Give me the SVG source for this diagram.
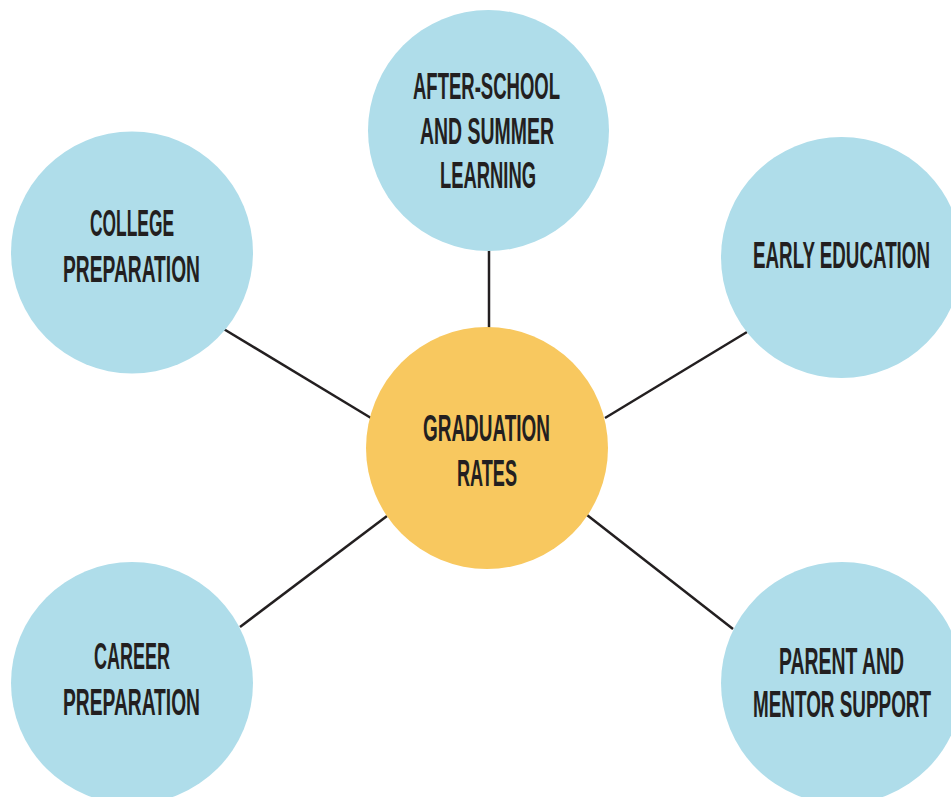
<svg xmlns="http://www.w3.org/2000/svg" width="951" height="797" viewBox="0 0 951 797">
<style>
.outer{fill:#AFDDEA}
.hub{fill:#F8C85F}
.lbl{font-family:"Liberation Sans Narrow","Liberation Sans",Arial,sans-serif;font-weight:bold;font-size:36px;fill:#231F20;text-anchor:middle}
.conn line{stroke:#231F20;stroke-width:2.5;stroke-linecap:butt}
</style>
<rect width="951" height="797" fill="#FFFFFF"/>
<g id="connectors" class="conn">
<line x1="489" y1="250" x2="489" y2="328"/>
<line x1="222" y1="328" x2="371" y2="418"/>
<line x1="747" y1="332" x2="605" y2="418"/>
<line x1="240" y1="627" x2="387" y2="516"/>
<line x1="587" y1="515" x2="733" y2="629"/>
</g>
<g id="node-graduation">
<circle class="hub" cx="487" cy="448" r="121"/>
<text class="lbl" x="486.5" y="441" textLength="127" lengthAdjust="spacingAndGlyphs">GRADUATION</text>
<text class="lbl" x="487" y="486" textLength="60" lengthAdjust="spacingAndGlyphs">RATES</text>
</g>
<g id="node-afterschool">
<circle class="outer" cx="488.5" cy="130.5" r="120.5"/>
<text class="lbl" x="486.5" y="99" textLength="147" lengthAdjust="spacingAndGlyphs">AFTER-SCHOOL</text>
<text class="lbl" x="487" y="144" textLength="134" lengthAdjust="spacingAndGlyphs">AND SUMMER</text>
<text class="lbl" x="488" y="188" textLength="96" lengthAdjust="spacingAndGlyphs">LEARNING</text>
</g>
<g id="node-college">
<circle class="outer" cx="132" cy="252.5" r="121"/>
<text class="lbl" x="132" y="236" textLength="84" lengthAdjust="spacingAndGlyphs">COLLEGE</text>
<text class="lbl" x="131.5" y="282" textLength="137" lengthAdjust="spacingAndGlyphs">PREPARATION</text>
</g>
<g id="node-early">
<circle class="outer" cx="841.5" cy="257.5" r="120.5"/>
<text class="lbl" x="841.5" y="268" textLength="177" lengthAdjust="spacingAndGlyphs">EARLY EDUCATION</text>
</g>
<g id="node-career">
<circle class="outer" cx="132" cy="683" r="121"/>
<text class="lbl" x="132" y="669" textLength="76" lengthAdjust="spacingAndGlyphs">CAREER</text>
<text class="lbl" x="131.5" y="715" textLength="137" lengthAdjust="spacingAndGlyphs">PREPARATION</text>
</g>
<g id="node-parent">
<circle class="outer" cx="842" cy="683" r="121"/>
<text class="lbl" x="841.5" y="674" textLength="125" lengthAdjust="spacingAndGlyphs">PARENT AND</text>
<text class="lbl" x="842" y="717" textLength="178" lengthAdjust="spacingAndGlyphs">MENTOR SUPPORT</text>
</g>
</svg>
